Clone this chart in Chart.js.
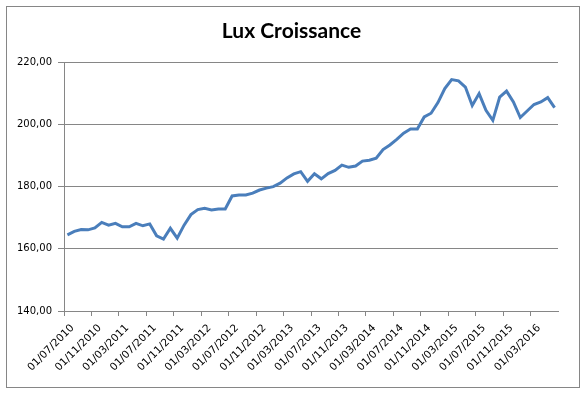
<!DOCTYPE html>
<html>
<head>
<meta charset="utf-8">
<script src="https://cdn.jsdelivr.net/npm/chart.js@4"></script>
<style>
  html, body { margin: 0; padding: 0; background: #fff; }
  #wrap { position: relative; width: 585px; height: 398px; }
  #frame { position: absolute; left: 6px; top: 6px; width: 572px; height: 380px; border: 1px solid #868686; pointer-events: none; }
</style>
</head>
<body>
<div id="wrap">
  <canvas id="luxChart" width="585" height="398"></canvas>
  <div id="frame"></div>
</div>
<script>
const chartTitle = 'Lux Croissance';

const months = [
  '01/07/2010', '01/08/2010', '01/09/2010', '01/10/2010', '01/11/2010', '01/12/2010',
  '01/01/2011', '01/02/2011', '01/03/2011', '01/04/2011', '01/05/2011', '01/06/2011',
  '01/07/2011', '01/08/2011', '01/09/2011', '01/10/2011', '01/11/2011', '01/12/2011',
  '01/01/2012', '01/02/2012', '01/03/2012', '01/04/2012', '01/05/2012', '01/06/2012',
  '01/07/2012', '01/08/2012', '01/09/2012', '01/10/2012', '01/11/2012', '01/12/2012',
  '01/01/2013', '01/02/2013', '01/03/2013', '01/04/2013', '01/05/2013', '01/06/2013',
  '01/07/2013', '01/08/2013', '01/09/2013', '01/10/2013', '01/11/2013', '01/12/2013',
  '01/01/2014', '01/02/2014', '01/03/2014', '01/04/2014', '01/05/2014', '01/06/2014',
  '01/07/2014', '01/08/2014', '01/09/2014', '01/10/2014', '01/11/2014', '01/12/2014',
  '01/01/2015', '01/02/2015', '01/03/2015', '01/04/2015', '01/05/2015', '01/06/2015',
  '01/07/2015', '01/08/2015', '01/09/2015', '01/10/2015', '01/11/2015', '01/12/2015',
  '01/01/2016', '01/02/2016', '01/03/2016', '01/04/2016', '01/05/2016', '01/06/2016'
];

const navValues = [
  164.5, 165.6, 166.2, 166.1, 166.7, 168.5,
  167.6, 168.2, 167.1, 167.1, 168.2, 167.4,
  168.0, 164.2, 163.1, 166.6, 163.4, 167.6,
  171.0, 172.6, 173.0, 172.5, 172.8, 172.8,
  177.0, 177.3, 177.3, 177.9, 178.9, 179.5,
  180.0, 181.1, 182.8, 184.1, 184.8, 181.7,
  184.1, 182.5, 184.2, 185.2, 186.9, 186.2,
  186.6, 188.2, 188.5, 189.1, 191.9, 193.4,
  195.2, 197.2, 198.5, 198.5, 202.4, 203.6,
  207.0, 211.5, 214.4, 214.0, 212.0, 206.1,
  209.9, 204.5, 201.3, 208.8, 210.7, 207.2,
  202.2, 204.3, 206.4, 207.2, 208.6, 205.4
];

const yTicks = [140, 160, 180, 200, 220];
const labelEvery = 4;

const ctx = document.getElementById('luxChart').getContext('2d');

new Chart(ctx, {
  type: 'line',
  data: {
    labels: months,
    datasets: [{
      label: chartTitle,
      data: navValues,
      borderColor: '#4a7ebb',
      borderWidth: 3,
      pointRadius: 0,
      tension: 0,
      fill: false
    }]
  },
  options: {
    responsive: false,
    animation: false,
    layout: {
      padding: { left: 0, right: 2, top: 0, bottom: 10 }
    },
    plugins: {
      legend: { display: false },
      tooltip: { enabled: false },
      title: {
        display: true,
        text: chartTitle,
        color: '#000',
        font: { family: 'Lato', size: 21, weight: 'bold', lineHeight: 1.2 },
        padding: { top: 19, bottom: 18 }
      }
    },
    scales: {
      x: {
        offset: true,
        grid: {
          offset: true,
          drawOnChartArea: false,
          drawTicks: true,
          tickLength: 5,
          color: ctx => (ctx.index % labelEvery === 0 ? '#868686' : 'rgba(0,0,0,0)')
        },
        border: { display: true, color: '#868686', width: 1 },
        ticks: {
          autoSkip: false,
          maxRotation: 45,
          minRotation: 45,
          padding: 6,
          labelOffset: 5,
          color: '#000',
          font: { family: 'DejaVu Sans', size: 10.5 },
          callback: function (value, index) {
            return index % labelEvery === 0 ? this.getLabelForValue(value) : '';
          }
        },
        afterFit: scale => { scale.height = 77; }
      },
      y: {
        min: yTicks[0],
        max: yTicks[yTicks.length - 1],
        afterBuildTicks: scale => { scale.ticks = yTicks.map(v => ({ value: v })); },
        grid: {
          color: '#868686',
          tickLength: 6,
          drawTicks: true
        },
        border: { display: true, color: '#868686', width: 1 },
        ticks: {
          padding: 6,
          color: '#000',
          font: { family: 'DejaVu Sans', size: 10 },
          callback: v => v.toFixed(2).replace('.', ',')
        },
        afterFit: scale => { scale.width = 64; }
      },
      yRight: {
        position: 'right',
        display: true,
        grid: { display: false, drawTicks: false },
        border: { display: false },
        ticks: { display: false },
        afterFit: scale => { scale.width = 25; }
      }
    }
  }
});
</script>
</body>
</html>
